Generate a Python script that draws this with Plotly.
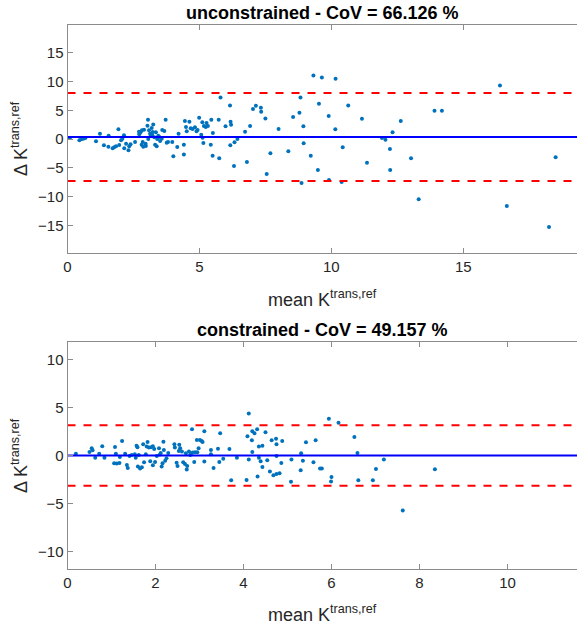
import plotly.graph_objects as go

# ---------------- data: unconstrained ----------------
unc_mean = [0.09, 0.45, 0.52, 0.60, 0.68, 1.08, 1.23, 1.38, 1.56, 1.55, 1.71, 1.77, 1.84, 1.93, 1.96,
            2.03, 2.08, 2.14, 2.15, 2.22, 2.31, 2.34, 2.39, 2.56, 2.71, 2.72, 2.77, 2.82, 2.81, 2.85,
            2.87, 2.90, 2.96, 2.97, 3.03, 3.05, 3.06, 3.09, 3.13, 3.15, 3.19, 3.21, 3.23, 3.25, 3.29,
            3.32, 3.35, 3.38, 3.40, 3.44, 3.48, 3.51, 3.57, 3.59, 3.67, 3.72, 3.76, 3.81, 3.97, 4.01,
            4.16, 4.21, 4.41, 4.41, 4.45, 4.49, 4.52, 4.62, 4.67, 4.74, 4.83, 4.89, 4.93, 4.99, 5.07,
            5.11, 5.12, 5.15, 5.17, 5.24, 5.27, 5.32, 5.43, 5.45, 5.51, 5.50, 5.73, 5.75, 5.99, 5.80,
            6.16, 6.18, 6.20, 6.17, 6.31, 6.33, 6.44,
            6.73, 6.80, 6.92, 7.03, 7.14, 7.33, 7.34, 7.50, 7.55, 7.69, 8.00, 8.37, 8.55, 8.79, 8.83,
            8.87, 8.94, 8.95, 9.22, 9.32, 9.49, 9.53, 9.64, 9.90, 9.91, 10.15, 10.16, 10.39, 10.43,
            10.64, 11.16, 11.35, 11.92, 12.05, 12.22, 12.23, 12.32, 12.63, 13.02,
            13.31, 13.91, 14.19, 16.39, 16.65, 18.25, 18.50]
unc_diff = [0.20, -0.21, -0.03, 0.08, 0.20, -0.38, 0.95, -1.07, 0.60, -1.31, -1.59, -1.42, -1.25, 1.70, -1.02,
            -0.21, 0.08, 0.66, -1.59, -0.79, -1.94, -1.25, -0.90, -0.50, 1.29, 0.83, 1.18, 1.53, -0.96, -0.50,
            -1.31, 1.64, -0.79, -1.19, 2.33, 3.37, 0.02, 1.53, 0.95, 0.54, 1.93, 0.72, 1.24, 2.56, 0.31,
            -0.96, 1.18, -1.25, 0.02, 0.60, 0.37, -0.32, 0.08, 1.58, 1.41, 3.37, -0.61, -0.50, -0.50, -2.98,
            -1.36, 0.95, -0.96, -2.68, 3.14, 2.10, 1.35, 3.03, 1.87, 1.76, 2.05, 1.35, 1.58, 3.72, 0.77,
            2.91, 0.25, -0.67, 2.28, 2.10, 2.80, 2.28, -0.96, 3.37, 1.06, -2.87, 3.37, -3.33, 2.22, 7.24,
            5.85, 3.03, 2.51, -1.07, -4.64, -0.55, 0.02,
            1.29, -3.96, 2.28, 5.22, 5.80, 5.45, 4.76, 3.60, -6.04, -2.46, 1.76, -2.11, 3.84, 4.59, 7.24,
            -7.60, 2.22, -0.73, -2.87, 11.05, -5.35, 6.14, 10.71, 4.01, -7.08, 1.70, 10.48, -7.42, -1.42,
            5.85, 3.55, -4.08, 0.20, -0.09, -1.71, -5.35, 1.18, 3.14, -3.30,
            -10.42, 4.94, 4.94, 9.32, -11.59, -15.23, -3.15]
unc_bias = 0.38
unc_upper = 8.02
unc_lower = -7.26
unc_xlim = [0, 19.31]
unc_ylim = [-19.8, 19.8]
unc_xticks = [0, 5, 10, 15]
unc_yticks = [-15, -10, -5, 0, 5, 10, 15]
unc_title = "unconstrained - CoV = 66.126 %"

# ---------------- data: constrained ----------------
con_mean = [0.19, 0.50, 0.55, 0.57, 0.63, 0.72, 0.79, 0.84, 1.06, 1.08, 1.10, 1.12, 1.18, 1.19, 1.24,
            1.31, 1.35, 1.37, 1.41, 1.46, 1.53, 1.55, 1.57, 1.59, 1.60, 1.62, 1.65, 1.69, 1.72, 1.74,
            1.78, 1.80, 1.82, 1.85, 1.88, 1.90, 1.94, 1.94, 1.97, 1.99, 2.03, 2.08, 2.10, 2.12, 2.14,
            2.16, 2.18, 2.19, 2.22, 2.25, 2.29, 2.43, 2.44, 2.48, 2.50, 2.53, 2.54, 2.56, 2.60, 2.63,
            2.67, 2.69, 2.71, 2.72, 2.76, 2.79, 2.81, 2.83, 2.85, 2.88, 2.90, 2.94, 2.95, 2.98, 3.01,
            3.05, 3.07, 3.11, 3.11, 3.26, 3.26, 3.32, 3.42, 3.45, 3.47, 3.54, 3.68, 3.72, 3.85,
            4.07, 4.09, 4.12, 4.12, 4.19, 4.20, 4.20, 4.25, 4.31, 4.32, 4.35, 4.35, 4.39, 4.43, 4.43,
            4.50, 4.54, 4.60, 4.64, 4.68, 4.74, 4.75, 4.75, 4.75, 4.82, 4.86, 4.88, 5.08, 5.09, 5.30,
            5.31, 5.35, 5.42, 5.59, 5.64, 5.74, 5.78, 5.94, 6.00, 5.99, 6.16, 6.52, 6.59, 6.61, 6.94,
            7.01, 7.19, 7.62, 8.35]
con_diff = [0.21, 0.38, 0.77, 0.56, -0.21, 0.21, 0.97, -0.21, -0.80, 0.90, 0.21, -0.83, -0.76, -0.14, 1.53,
            0.21, -0.97, -1.28, -0.03, 0.07, 0.14, -0.21, 1.04, 0.87, -1.14, 0.07, -1.35, -1.21, 1.18, -0.69,
            0.14, 0.94, 1.42, 0.84, -0.59, 0.87, -1.00, 0.97, 0.69, -0.66, -0.03, 0.77, 0.11, 0.28, -1.14,
            -0.80, 1.46, 0.59, -0.52, -0.28, 0.28, 1.18, 0.84, -0.73, -1.07, 0.49, 1.14, 0.77, 0.42, -0.69,
            -0.87, 0.25, -1.45, -1.07, 0.42, 0.07, 0.25, 2.74, 0.32, -0.66, 0.35, 1.63, 0.35, 0.77, 1.63,
            1.53, 1.42, 2.53, -0.62, 0.59, 0.14, -1.28, 0.73, -0.66, 2.32, -0.31, 0.69, -2.56, -0.21,
            -2.53, 2.01, 4.40, -0.41, 1.60, 2.53, 0.38, 2.32, 2.74, -2.18, 0.94, -0.21, -0.59, -1.17, 1.04,
            2.43, -0.48, -1.66, 1.60, -2.04, 1.77, 1.18, -0.03, -1.90, -1.83, -0.76, 1.53, -2.73, -0.41, -1.52,
            0.25, -0.52, 1.39, -0.69, 1.60, -1.35, -1.35, 3.85, -2.22, -2.70, 3.43, 1.94, 0.28, -2.56, -2.56,
            -1.38, -0.41, -5.72, -1.41]
con_bias = 0.01
con_upper = 3.16
con_lower = -3.14
con_xlim = [0, 11.58]
con_ylim = [-11.8, 11.8]
con_xticks = [0, 2, 4, 6, 8, 10]
con_yticks = [-10, -5, 0, 5, 10]
con_title = "constrained - CoV = 49.157 %"

x_label = "mean K<sup>trans,ref</sup>"
y_label = "\u0394 K<sup>trans,ref</sup>"

# ---------------- styling ----------------
W, H = 577, 626
FONT = "Liberation Sans, Arial, sans-serif"
AXC = "#8c8c8c"
TXT = "#262626"
DOT = "#0072BD"

fig = go.Figure()

panels = [
    (unc_mean, unc_diff, unc_bias, unc_upper, unc_lower, unc_xlim, "x", "y"),
    (con_mean, con_diff, con_bias, con_upper, con_lower, con_xlim, "x2", "y2"),
]
for mx, dy, b, up, lo, xl, xa, ya in panels:
    fig.add_trace(go.Scatter(x=mx, y=dy, mode="markers", xaxis=xa, yaxis=ya,
                             marker=dict(size=4, color=DOT, line=dict(width=0)),
                             showlegend=False, hoverinfo="skip"))
    fig.add_trace(go.Scatter(x=xl, y=[b, b], mode="lines", xaxis=xa, yaxis=ya,
                             line=dict(color="#0000FF", width=2), showlegend=False))
    for v in (up, lo):
        fig.add_trace(go.Scatter(x=xl, y=[v, v], mode="lines", xaxis=xa, yaxis=ya,
                                 line=dict(color="#FF0000", width=2, dash="8px,8px"),
                                 showlegend=False))

def px2x(p):
    return p / W

def px2y(p):
    return 1 - p / H

xdom = [px2x(67.5), 1.0]
top_dom = [px2y(253.3), px2y(25)]
bot_dom = [px2y(569), px2y(342.3)]

axis_common = dict(showline=True, linecolor=AXC, linewidth=1, ticks="inside", ticklen=5,
                   tickcolor=AXC, tickwidth=1, showgrid=False, zeroline=False, automargin=False,
                   tickfont=dict(family=FONT, size=15, color=TXT), fixedrange=True)

fig.update_layout(
    width=W, height=H, margin=dict(l=0, r=0, t=0, b=0, autoexpand=False),
    paper_bgcolor="white", plot_bgcolor="white", showlegend=False,
    xaxis=dict(domain=xdom, range=unc_xlim, anchor="y", tickvals=unc_xticks, mirror="ticks", **axis_common),
    yaxis=dict(domain=top_dom, range=unc_ylim, anchor="x", tickvals=unc_yticks, mirror=False, **axis_common),
    xaxis2=dict(domain=xdom, range=con_xlim, anchor="y2", tickvals=con_xticks, mirror="ticks", **axis_common),
    yaxis2=dict(domain=bot_dom, range=con_ylim, anchor="x2", tickvals=con_yticks, mirror=False, **axis_common),
)

cx = px2x((67.5 + 577) / 2)
ann = []
# titles
ann.append(dict(text="<b>" + unc_title + "</b>", x=cx, y=px2y(13), xref="paper", yref="paper",
                xanchor="center", yanchor="middle", showarrow=False,
                font=dict(family=FONT, size=18, color="#000000")))
ann.append(dict(text="<b>" + con_title + "</b>", x=cx, y=px2y(330), xref="paper", yref="paper",
                xanchor="center", yanchor="middle", showarrow=False,
                font=dict(family=FONT, size=18, color="#000000")))
# x labels
for ybase in (298, 613):
    ann.append(dict(text=x_label, x=cx, y=px2y(ybase), xref="paper", yref="paper",
                    xanchor="center", yanchor="middle", showarrow=False,
                    font=dict(family=FONT, size=18, color=TXT)))
# y labels
for yc in (139, 456):
    ann.append(dict(text=y_label, x=px2x(19), y=px2y(yc), xref="paper", yref="paper",
                    xanchor="center", yanchor="middle", showarrow=False, textangle=-90,
                    font=dict(family=FONT, size=18, color=TXT)))
fig.update_layout(annotations=ann)

fig.write_html("out.html", config={"displayModeBar": False, "staticPlot": True},
               post_script="document.body.style.margin='0';document.body.style.overflow='hidden';")
